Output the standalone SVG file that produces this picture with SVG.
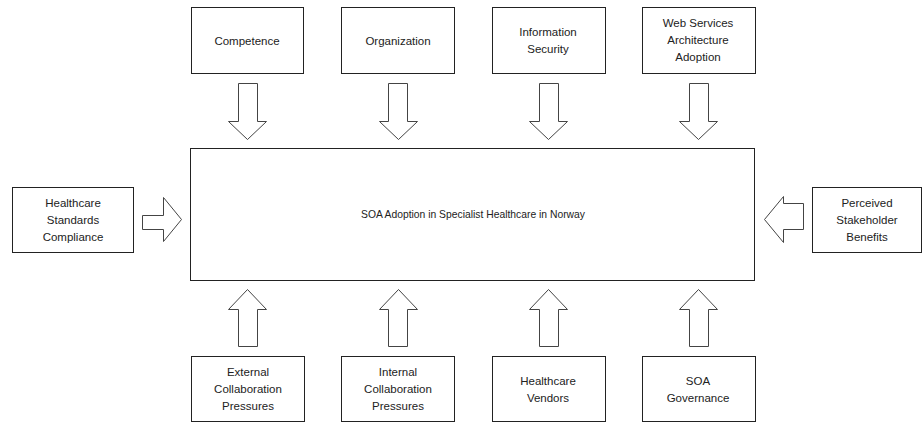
<svg xmlns="http://www.w3.org/2000/svg" width="923" height="423" viewBox="0 0 923 423">
<style>
.box{fill:#fff;stroke:#222;stroke-width:1}
.arr{fill:#fff;stroke:#444;stroke-width:1}
text{font-family:"Liberation Sans",Arial,sans-serif;font-size:11.5px;fill:#222;text-anchor:middle;dominant-baseline:central}
</style>
<rect width="923" height="423" fill="#fff"/>
<g id="connectors">
<polygon class="arr" points="238.5,83.5 257.5,83.5 257.5,121.5 266.5,121.5 247.5,139.5 228.5,121.5 238.5,121.5"/>
<polygon class="arr" points="388.5,83.5 407.5,83.5 407.5,121.5 417.5,121.5 398.5,139.5 379.5,121.5 388.5,121.5"/>
<polygon class="arr" points="539.5,83.5 558.5,83.5 558.5,121.5 567.5,121.5 548.5,139.5 529.5,121.5 539.5,121.5"/>
<polygon class="arr" points="689.5,83.5 708.5,83.5 708.5,121.5 717.5,121.5 698.5,139.5 679.5,121.5 689.5,121.5"/>
<polygon class="arr" points="238.5,346.5 257.5,346.5 257.5,309.5 266.5,309.5 247.5,289.5 228.5,309.5 238.5,309.5"/>
<polygon class="arr" points="388.5,346.5 407.5,346.5 407.5,309.5 417.5,309.5 398.5,289.5 379.5,309.5 388.5,309.5"/>
<polygon class="arr" points="539.5,346.5 558.5,346.5 558.5,309.5 567.5,309.5 548.5,289.5 529.5,309.5 539.5,309.5"/>
<polygon class="arr" points="689.5,346.5 708.5,346.5 708.5,309.5 717.5,309.5 698.5,289.5 679.5,309.5 689.5,309.5"/>
<polygon class="arr" points="142.5,215.5 163.5,215.5 163.5,197.5 181.5,219.5 163.5,241.5 163.5,229.5 142.5,229.5"/>
<polygon class="arr" points="803.5,203.5 783.5,203.5 783.5,196.5 764.5,219.5 783.5,242.5 783.5,229.5 803.5,229.5"/>
</g>
<g id="main">
<rect class="box" x="190.5" y="148.5" width="564" height="132"/>
<text x="473" y="214" textLength="224" lengthAdjust="spacingAndGlyphs">SOA Adoption in Specialist Healthcare in Norway</text>
</g>
<g id="competence">
<rect class="box" x="191.5" y="7.5" width="112" height="66"/>
<text x="247" y="41">Competence</text>
</g>
<g id="organization">
<rect class="box" x="341.5" y="7.5" width="113" height="66"/>
<text x="398" y="41">Organization</text>
</g>
<g id="infosec">
<rect class="box" x="492.5" y="7.5" width="113" height="66"/>
<text x="548" y="32">Information</text>
<text x="548" y="49">Security</text>
</g>
<g id="webservices">
<rect class="box" x="642.5" y="7.5" width="113" height="66"/>
<text x="698" y="23">Web Services</text>
<text x="698" y="40">Architecture</text>
<text x="698" y="57">Adoption</text>
</g>
<g id="standards">
<rect class="box" x="12.5" y="187.5" width="121" height="65"/>
<text x="73" y="203">Healthcare</text>
<text x="73" y="220">Standards</text>
<text x="73" y="237">Compliance</text>
</g>
<g id="stakeholder">
<rect class="box" x="812.5" y="187.5" width="109" height="65"/>
<text x="867" y="203">Perceived</text>
<text x="867" y="220">Stakeholder</text>
<text x="867" y="237">Benefits</text>
</g>
<g id="external">
<rect class="box" x="191.5" y="356.5" width="113" height="65"/>
<text x="248" y="372">External</text>
<text x="248" y="389">Collaboration</text>
<text x="248" y="406">Pressures</text>
</g>
<g id="internal">
<rect class="box" x="341.5" y="356.5" width="113" height="65"/>
<text x="398" y="372">Internal</text>
<text x="398" y="389">Collaboration</text>
<text x="398" y="406">Pressures</text>
</g>
<g id="vendors">
<rect class="box" x="492.5" y="356.5" width="113" height="65"/>
<text x="548" y="381">Healthcare</text>
<text x="548" y="398">Vendors</text>
</g>
<g id="governance">
<rect class="box" x="642.5" y="356.5" width="113" height="65"/>
<text x="698" y="381">SOA</text>
<text x="698" y="398">Governance</text>
</g>
</svg>
